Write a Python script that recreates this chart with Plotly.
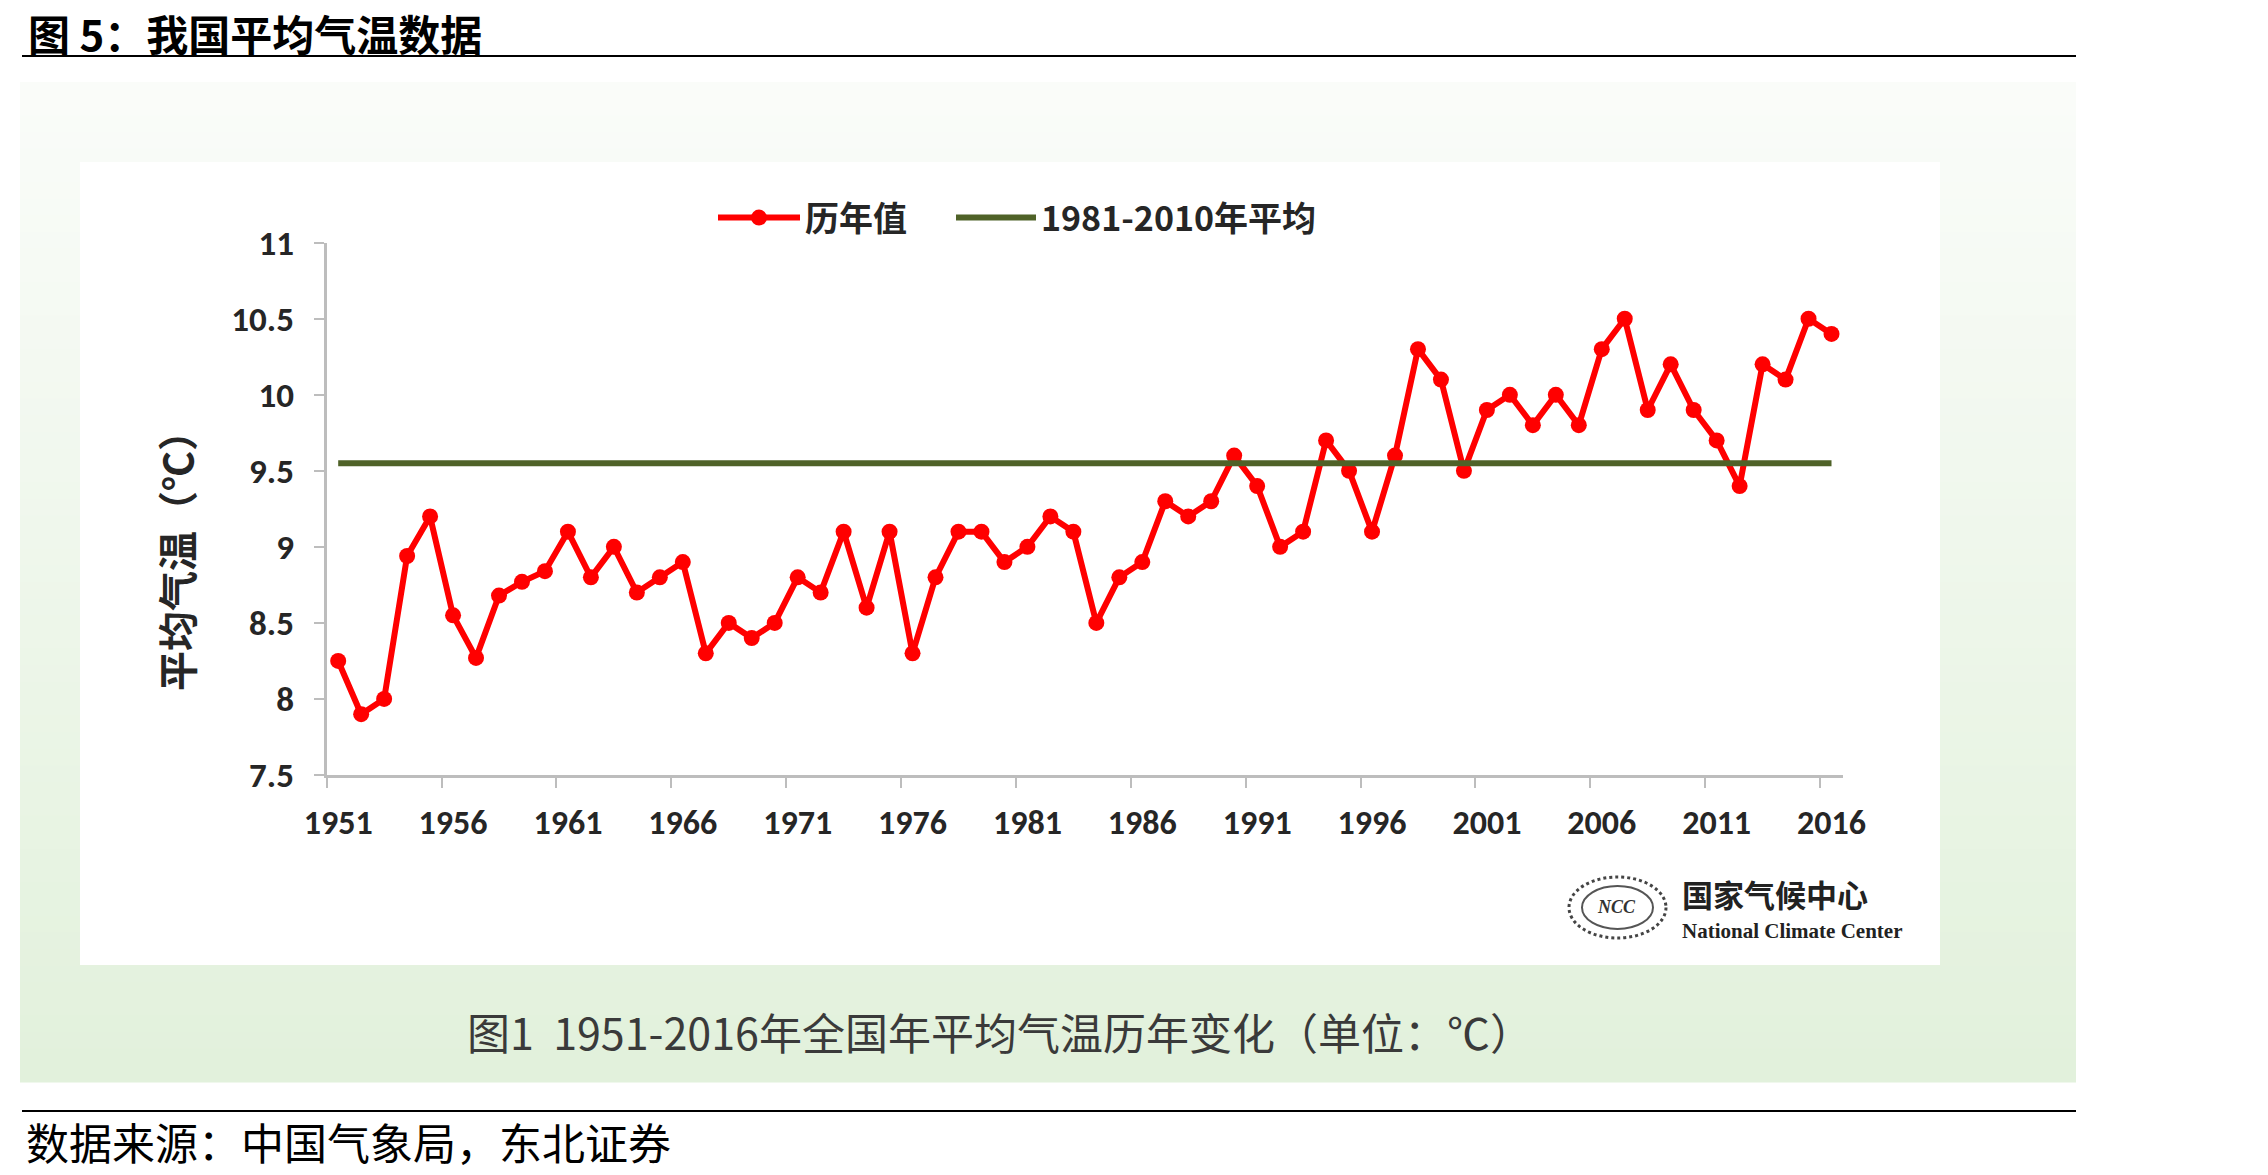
import plotly.graph_objects as go

W, H = 2268, 1175

# ---------------- data ----------------
years = list(range(1951, 2017))
annual_temp = [
    8.25, 7.90, 8.00, 8.94, 9.20, 8.55, 8.27, 8.68, 8.77, 8.84,
    9.10, 8.80, 9.00, 8.70, 8.80, 8.90, 8.30, 8.50, 8.40, 8.50,
    8.80, 8.70, 9.10, 8.60, 9.10, 8.30, 8.80, 9.10, 9.10, 8.90,
    9.00, 9.20, 9.10, 8.50, 8.80, 8.90, 9.30, 9.20, 9.30, 9.60,
    9.40, 9.00, 9.10, 9.70, 9.50, 9.10, 9.60, 10.30, 10.10, 9.50,
    9.90, 10.00, 9.80, 10.00, 9.80, 10.30, 10.50, 9.90, 10.20, 9.90,
    9.70, 9.40, 10.20, 10.10, 10.50, 10.40,
]
baseline_value = 9.55          # 1981-2010 average
baseline_years = [1951, 2016]

x_tick_labels = [str(y) for y in range(1951, 2017, 5)]
y_tick_values = [7.5, 8, 8.5, 9, 9.5, 10, 10.5, 11]

series_names = ["历年值", "1981-2010年平均"]
title_text = "图 5：我国平均气温数据"
caption_text = "图1  1951-2016年全国年平均气温历年变化（单位：℃）"
source_text = "数据来源：中国气象局，东北证券"
y_title = "平均气温（℃）"


def px(x):
    return x / W


def py(y):
    return 1 - y / H


CJK = "Noto Sans CJK SC, Noto Sans, sans-serif"
NUM = "Carlito, Liberation Sans Narrow, Liberation Sans, Arial, sans-serif"

fig = go.Figure()

fig.add_trace(go.Scatter(
    x=years, y=annual_temp, name=series_names[0], mode="lines+markers",
    line=dict(color="#ff0000", width=6),
    marker=dict(color="#ff0000", size=16, symbol="circle"),
    legend="legend",
))
fig.add_trace(go.Scatter(
    x=baseline_years, y=[baseline_value, baseline_value], name=series_names[1],
    mode="lines", line=dict(color="#4f6228", width=6),
    legend="legend2",
))

shapes = []
# green gradient background panel (vertical)
top_c = (250, 252, 249)
bot_c = (226, 241, 220)
y0, y1 = 82, 1082
n = 60
for i in range(n):
    t = i / (n - 1)
    c = tuple(round(top_c[k] + (bot_c[k] - top_c[k]) * t) for k in range(3))
    ya = y0 + (y1 - y0) * i / n
    yb = y0 + (y1 - y0) * (i + 1) / n + 0.6
    shapes.append(dict(type="rect", xref="paper", yref="paper",
                       x0=px(20), x1=px(2076), y0=py(ya), y1=py(yb),
                       fillcolor="rgb(%d,%d,%d)" % c, line=dict(width=0),
                       layer="below"))
# inner white panel
shapes.append(dict(type="rect", xref="paper", yref="paper",
                   x0=px(80), x1=px(1940), y0=py(162), y1=py(965),
                   fillcolor="#ffffff", line=dict(width=0), layer="below"))
# rules
for yy in (56, 1111):
    shapes.append(dict(type="line", xref="paper", yref="paper",
                       x0=px(22), x1=px(2076), y0=py(yy), y1=py(yy),
                       line=dict(color="#000000", width=2)))
# logo emblem
shapes.append(dict(type="circle", xref="paper", yref="paper",
                   x0=px(1569), x1=px(1666), y0=py(877), y1=py(938),
                   line=dict(color="#444444", width=3, dash="dot")))
shapes.append(dict(type="circle", xref="paper", yref="paper",
                   x0=px(1582), x1=px(1653), y0=py(886), y1=py(929),
                   line=dict(color="#555555", width=2)))

annotations = [
    dict(text=title_text, x=px(26), y=py(32), xref="paper", yref="paper",
         xanchor="left", yanchor="middle", showarrow=False,
         font=dict(family=CJK, size=42, color="#000000", weight="bold")),
    dict(text=source_text, x=px(24), y=py(1141), xref="paper", yref="paper",
         xanchor="left", yanchor="middle", showarrow=False,
         font=dict(family=CJK, size=43, color="#000000")),
    dict(text=caption_text, x=px(1000), y=py(1031), xref="paper", yref="paper",
         xanchor="center", yanchor="middle", showarrow=False,
         font=dict(family=CJK, size=43, color="#3a3a3a")),
    dict(text=y_title, x=px(176), y=py(551), xref="paper", yref="paper",
         xanchor="center", yanchor="middle", showarrow=False, textangle=-90,
         font=dict(family=CJK, size=40, color="#262626", weight="bold")),
    dict(text="国家气候中心", x=px(1680), y=py(893), xref="paper", yref="paper",
         xanchor="left", yanchor="middle", showarrow=False,
         font=dict(family=CJK, size=31, color="#222222", weight="bold")),
    dict(text="National Climate Center", x=px(1680), y=py(931), xref="paper", yref="paper",
         xanchor="left", yanchor="middle", showarrow=False,
         font=dict(family="Liberation Serif, serif", size=21, color="#222222", weight="bold")),
    dict(text="<i>NCC</i>", x=px(1617), y=py(907), xref="paper", yref="paper",
         xanchor="center", yanchor="middle", showarrow=False,
         font=dict(family="Liberation Serif, serif", size=18, color="#333333", weight="bold")),
]

legend_font = dict(family=CJK, size=34, color="#262626", weight="bold")

fig.update_layout(
    width=W, height=H, autosize=False,
    margin=dict(l=0, r=0, t=0, b=0, pad=0, autoexpand=False),
    paper_bgcolor="#ffffff",
    plot_bgcolor="rgba(0,0,0,0)",
    shapes=shapes,
    annotations=annotations,
    showlegend=True,
    legend=dict(
        orientation="h", x=px(713), y=py(218), xanchor="left", yanchor="middle",
        bgcolor="rgba(0,0,0,0)", borderwidth=0, font=legend_font, itemwidth=82,
    ),
    legend2=dict(
        orientation="h", x=px(951), y=py(218), xanchor="left", yanchor="middle",
        bgcolor="rgba(0,0,0,0)", borderwidth=0, font=legend_font, itemwidth=80,
    ),
    xaxis=dict(
        domain=[px(326.7), px(1843)],
        range=[1950.5, 2016.5],
        tickmode="array",
        tickvals=[int(t) for t in x_tick_labels],
        ticktext=x_tick_labels,
        ticks="", ticklabelstandoff=15,
        showgrid=False, zeroline=False,
        showline=True, linecolor="#bdbdbd", linewidth=2.5,
        tickfont=dict(family=NUM, size=34, color="#262626", weight="bold"),
        minor=dict(tickmode="array",
                   tickvals=[y - 0.5 for y in range(1951, 2017, 5)],
                   ticks="outside", ticklen=10, tickwidth=2, tickcolor="#bdbdbd",
                   showgrid=False),
        fixedrange=True, automargin=False,
    ),
    yaxis=dict(
        domain=[py(775), py(242.7)],
        range=[7.5, 11],
        tickmode="array",
        tickvals=y_tick_values,
        ticktext=[("%g" % v) for v in y_tick_values],
        ticks="outside", ticklen=10, tickwidth=2, tickcolor="#bdbdbd",
        ticklabelstandoff=13,
        showgrid=False, zeroline=False,
        showline=True, linecolor="#bdbdbd", linewidth=2.5,
        tickfont=dict(family=NUM, size=35, color="#262626", weight="bold"),
        fixedrange=True, automargin=False,
    ),
)

fig.write_html("out.html", config={"responsive": False, "displayModeBar": False})
